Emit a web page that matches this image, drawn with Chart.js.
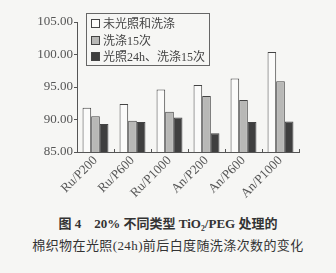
<!DOCTYPE html>
<html>
<head>
<meta charset="utf-8">
<script src="https://cdn.jsdelivr.net/npm/chart.js@4.4.0/dist/chart.umd.min.js"></script>
<style>
  body { margin: 0; background: #f6f6f4; }
  #wrap { position: relative; width: 336px; height: 273px; background: #f6f6f4; }
  #chart { position: absolute; left: 0; top: 0; }
  #legend {
    position: absolute; left: 86px; top: 13px; width: 124px; height: 53px;
    border: 1px solid #666; box-sizing: border-box; padding: 2px 0 0 4px;
    font: 12px "Liberation Serif", "Noto Sans CJK SC", serif; color: #444;
  }
  #legend div { height: 16.5px; line-height: 16px; white-space: nowrap; }
  #legend span.box {
    display: inline-block; width: 7px; height: 7px; border: 1px solid #444;
    margin-right: 3px; vertical-align: 0px;
  }
  #caption {
    position: absolute; left: 0; top: 213px; width: 336px; text-align: center;
    font: 13px "Liberation Serif", "Noto Sans CJK SC", serif; color: #333; line-height: 22px;
  }
</style>
</head>
<body>
<div id="wrap">
  <canvas id="chart" width="336" height="205"></canvas>
  <div id="legend"></div>
  <div id="caption">
    <div style="font-weight:600">图 4　20% 不同类型 TiO₂/PEG 处理的</div>
    <div style="letter-spacing:0.4px">棉织物在光照(24h)前后白度随洗涤次数的变化</div>
  </div>
</div>
<script>
// categories and series
const categories = ["Ru/P200", "Ru/P600", "Ru/P1000", "An/P200", "An/P600", "An/P1000"];
const seriesNames = ["未光照和洗涤", "洗涤15次", "光照24h、洗涤15次"];
const unwashed = [91.8, 92.4, 94.6, 95.3, 96.3, 100.4];
const washed15 = [90.5, 89.8, 91.2, 93.6, 93.0, 95.9];
const light24Washed15 = [89.3, 89.6, 90.3, 87.9, 89.6, 89.7];
const yTicks = [85, 90, 95, 100, 105];

const fills = ["#fbfbfa", "#b8b8b6", "#3f3f3f"];
const seriesValues = [unwashed, washed15, light24Washed15];

// legend (html, so it can sit in a bordered box like the original)
const legendEl = document.getElementById("legend");
seriesNames.forEach((name, i) => {
    const row = document.createElement("div");
    row.innerHTML = `<span class="box" style="background:${fills[i]}"></span>${name}`;
    legendEl.appendChild(row);
});

const axisColor = "#555";

new Chart(document.getElementById("chart"), {
    type: "bar",
    data: {
        labels: categories,
        datasets: seriesNames.map((name, i) => ({
            label: name,
            data: seriesValues[i],
            backgroundColor: fills[i],
            borderColor: "#444",
            borderWidth: 1,
            borderSkipped: "bottom",
            categoryPercentage: 0.7,
            barPercentage: 1.0
        }))
    },
    options: {
        responsive: false,
        animation: false,
        layout: { padding: { left: 0, right: 37, top: 22, bottom: 0 } },
        plugins: { legend: { display: false }, tooltip: { enabled: false } },
        scales: {
            y: {
                min: 85,
                max: 105,
                afterBuildTicks: (scale) => { scale.ticks = yTicks.map(v => ({ value: v })); },
                afterFit: (scale) => { scale.width = 77; },
                ticks: {
                    color: "#555",
                    font: { family: "'Liberation Serif', serif", size: 13 },
                    padding: 1,
                    callback: (v) => Number(v).toFixed(2)
                },
                grid: { drawOnChartArea: false, tickLength: 3, color: axisColor },
                border: { color: axisColor, width: 1 }
            },
            x: {
                afterFit: (scale) => { scale.height = 53; },
                ticks: {
                    color: "#555",
                    font: { family: "'Liberation Serif', serif", size: 13 },
                    minRotation: 45,
                    maxRotation: 45,
                    padding: 4
                },
                grid: { drawOnChartArea: false, tickLength: -3, color: axisColor, offset: true },
                border: { color: axisColor, width: 1 }
            }
        }
    }
});
</script>
</body>
</html>
